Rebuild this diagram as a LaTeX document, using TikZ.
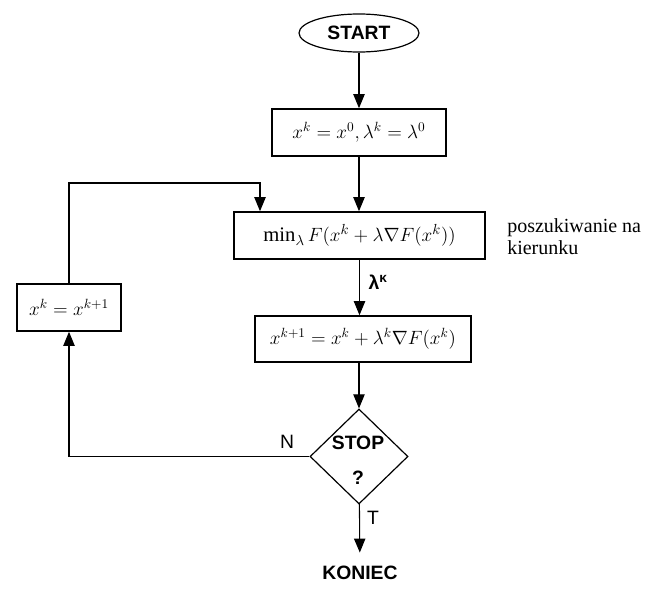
\documentclass[tikz,border=0pt]{standalone}
\usepackage{fontspec}
\setmainfont{Liberation Serif}
\newfontfamily\arial{Liberation Sans}
\usetikzlibrary{shapes.geometric,arrows.meta}

\begin{document}
\begin{tikzpicture}[x=0.75pt,y=-0.75pt,
  blok/.style={draw,line width=1.2pt,inner sep=0pt,minimum height=35.25pt},
  arr/.style={line width=0.8pt,-{Triangle[length=10.5pt,width=8.5pt]}},
  napis/.style={inner sep=1pt,font=\arial\fontsize{14.5}{17}\selectfont},
  napisb/.style={inner sep=1pt,font=\arial\bfseries\fontsize{14.5}{17}\selectfont}]
\useasboundingbox (0,0) rectangle (658,592);
\node[draw,ellipse,line width=0.9pt,minimum width=90pt,minimum height=28.5pt,inner sep=0pt,napisb] (start) at (359,33) {START};
\node[blok,minimum width=130.5pt,font=\fontsize{14.5}{17}\selectfont] (init) at (359,132.5) {$x^k = x^0, \lambda^k = \lambda^0$};
\node[blok,minimum width=188.25pt,font=\fontsize{15.5}{18}\selectfont] (minim) at (359.5,235.5) {$\min_\lambda F(x^k + \lambda\nabla F(x^k))$};
\node[blok,minimum width=162pt,minimum height=34.5pt,font=\fontsize{14.5}{17}\selectfont] (krok) at (363,339) {$x^{k+1} = x^k + \lambda^k\nabla F(x^k)$};
\node[blok,minimum width=78pt,font=\fontsize{14}{17}\selectfont] (podst) at (69,307.5) {$x^k = x^{k+1}$};
\node[draw,diamond,line width=0.9pt,minimum width=73.5pt,minimum height=71.25pt,inner sep=0pt] (stop) at (359,456.5) {};
\node[napisb,align=center] (stoptxt) at (358,460) {STOP\\[9pt]?};
\node[napisb,inner ysep=10pt] (koniec) at (360,573) {KONIEC};
\node[napis] (nie) at (287,442) {N};
\node[napis] (tak) at (373,518) {T};
\node[napisb] (lam) at (378,282) {λ\textsuperscript{κ}};
\node[font=\fontsize{15}{16.5}\selectfont,align=left,anchor=north west,inner sep=0pt] (opis) at (507,218) {poszukiwanie na\\kierunku};
\coordinate (zwrot) at (260,183);
\draw[arr] (start) -- (init);
\draw[arr] (init) -- (init |- minim.north);
\draw[arr] (podst) |- (zwrot) -- (zwrot |- minim.north);
\draw[arr] (minim) -- (minim |- krok.north);
\draw[arr] (krok.south -| stop) -- (stop);
\draw[arr] (stop) -| (podst);
\draw[arr] (stop) -- (koniec);
\end{tikzpicture}
\end{document}
